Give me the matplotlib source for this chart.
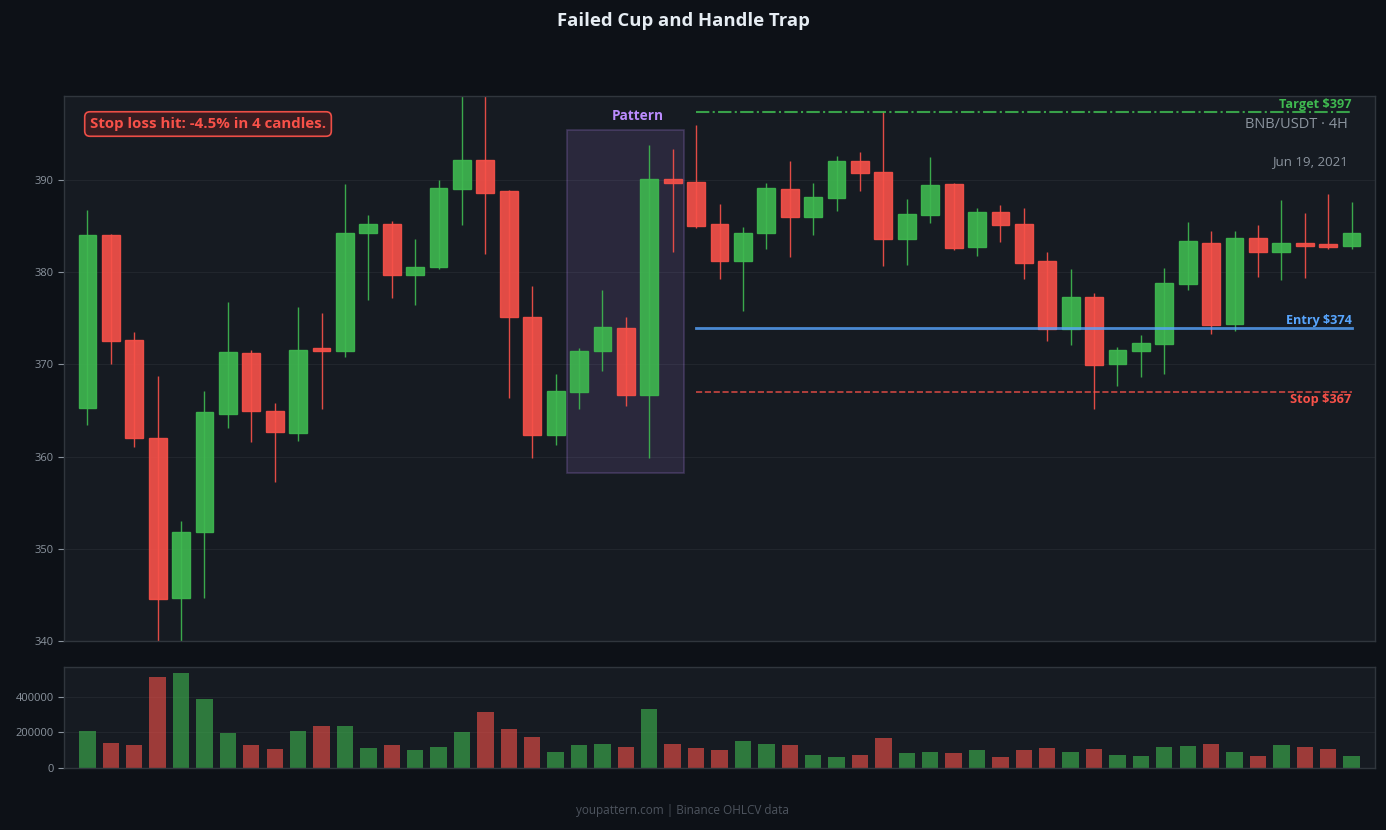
import matplotlib
matplotlib.use("Agg")
import matplotlib.pyplot as plt
from matplotlib.patches import Rectangle
from matplotlib import font_manager
import numpy as np

# ---------------- data ----------------
opens = [365.3, 384.1, 372.7, 362.0, 344.7, 351.8, 364.6, 371.3, 365.0, 362.6,
         371.8, 371.5, 384.3, 385.2, 379.7, 380.6, 389.0, 392.2, 388.8, 375.2,
         362.3, 367.0, 371.5, 374.0, 366.7, 390.1, 389.8, 385.2, 381.2, 384.3,
         389.0, 386.0, 388.1, 392.1, 390.9, 383.6, 386.2, 389.6, 382.7, 386.5,
         385.2, 381.2, 373.8, 377.3, 370.0, 371.5, 372.2, 378.7, 383.2, 374.4,
         383.7, 382.2, 383.2, 383.1, 382.9]
highs = [386.8, 384.2, 373.5, 368.8, 353.0, 367.1, 376.8, 371.6, 365.8, 376.2,
         375.6, 389.6, 386.2, 385.6, 383.6, 390.0, 400.2, 400.8, 388.9, 378.5,
         369.0, 371.8, 378.1, 375.1, 393.8, 393.4, 396.0, 387.4, 384.9, 389.7,
         392.1, 389.7, 392.6, 393.1, 397.5, 388.0, 392.5, 389.7, 387.0, 387.3,
         387.0, 382.2, 380.4, 377.8, 371.9, 373.2, 380.5, 385.5, 384.5, 384.5,
         385.1, 387.9, 386.4, 388.5, 387.6]
lows = [363.4, 370.0, 361.0, 339.8, 339.8, 344.7, 363.1, 361.6, 357.3, 361.7,
        365.2, 370.8, 377.0, 377.2, 376.5, 380.4, 385.1, 382.0, 366.4, 359.9,
        361.3, 365.2, 369.3, 365.5, 359.9, 382.2, 384.8, 379.3, 375.8, 382.5,
        381.7, 384.1, 386.7, 388.8, 380.7, 380.8, 385.4, 382.4, 381.8, 383.3,
        379.3, 372.6, 372.1, 365.2, 367.7, 368.6, 369.0, 378.1, 373.3, 373.6,
        379.5, 379.2, 379.4, 382.5, 382.5]
closes = [384.0, 372.5, 362.0, 344.6, 351.8, 364.8, 371.4, 365.0, 362.7, 371.6,
          371.5, 384.3, 385.2, 379.7, 380.6, 389.2, 392.2, 388.6, 375.1, 362.3,
          367.1, 371.5, 374.1, 366.7, 390.1, 389.7, 385.0, 381.2, 384.3, 389.2,
          386.0, 388.2, 392.1, 390.8, 383.6, 386.3, 389.5, 382.6, 386.5, 385.1,
          381.0, 373.8, 377.3, 369.9, 371.6, 372.3, 378.8, 383.4, 374.3, 383.7,
          382.2, 383.2, 382.9, 382.8, 384.3]
volumes = [206500, 139500, 128400, 513500, 535800, 390700, 195300, 128400, 106000, 206500,
           234400, 234400, 111600, 128400, 100500, 117200, 200900, 312600, 217700, 173000,
           89300, 128400, 134000, 117200, 329300, 134000, 111600, 100500, 150700, 134000,
           128400, 72600, 61400, 72600, 167400, 83700, 89300, 83700, 100500, 61400,
           100500, 111600, 89300, 106000, 72600, 67000, 117200, 122800, 134000, 89300,
           67000, 128400, 117200, 106000, 67000]

entry_price = 374.0
stop_price = 367.0
target_price = 397.4
trade_start = 26
pattern_start, pattern_end = 21, 25

title = "Failed Cup and Handle Trap"
symbol_label = "BNB/USDT · 4H"
date_label = "Jun 19, 2021"
result_label = "Stop loss hit: -4.5% in 4 candles."
footer = "youpattern.com | Binance OHLCV data"
price_ticks = [340, 350, 360, 370, 380, 390]
volume_ticks = [0, 200000, 400000]

# ---------------- style ----------------
FIG_BG = "#0d1117"
AX_BG = "#161b22"
SPINE = "#30363d"
GRID = "#21262d"
TICK = "#8b949e"
GREEN = "#3fb950"
RED = "#f85149"
BLUE = "#58a6ff"
PURPLE = "#bc8cff"
PURPLE_TXT = "#bc8cff"

plt.rcParams['font.family'] = ['Open Sans', 'DejaVu Sans']


def _find_bold_file():
    def w(f):
        try:
            return int(f.weight)
        except (TypeError, ValueError):
            return {'bold': 700, 'semibold': 600, 'demibold': 600, 'heavy': 800,
                    'black': 900, 'extra bold': 800}.get(str(f.weight).lower(), 400)
    for fam in ['Open Sans', 'Noto Sans', 'Inter', 'Roboto', 'Lato', 'DejaVu Sans']:
        cands = [f for f in font_manager.fontManager.ttflist
                 if f.name == fam and f.style == 'normal'
                 and 'ondensed' not in f.fname and 'ondensed' not in f.name
                 and str(f.stretch) in ('normal', '500', 'medium')
                 and 600 <= w(f) <= 800]
        if cands:
            cands.sort(key=lambda f: abs(w(f) - 700))
            return cands[0].fname
    return None


BOLD_FILE = _find_bold_file()


def bold(size):
    if BOLD_FILE:
        return font_manager.FontProperties(fname=BOLD_FILE, size=size)
    return font_manager.FontProperties(family='DejaVu Sans', weight='bold', size=size)


W, H = 1386, 830
fig = plt.figure(figsize=(W / 100, H / 100), dpi=100, facecolor=FIG_BG)

def frac(l, t, r, b):
    return [l / W, 1 - b / H, (r - l) / W, (b - t) / H]

ax = fig.add_axes(frac(64, 96, 1375, 641))
axv = fig.add_axes(frac(64, 667, 1375, 768), sharex=ax)

for a in (ax, axv):
    a.set_facecolor(AX_BG)
    for s in a.spines.values():
        s.set_color(SPINE)
        s.set_linewidth(1)
    a.tick_params(axis='y', colors=TICK, labelsize=8, length=4, color=TICK)
    a.tick_params(axis='x', bottom=False, labelbottom=False)
    a.grid(axis='y', color=GRID, linewidth=0.8)
    a.set_axisbelow(True)

n = len(opens)
x = np.arange(n)
o = np.array(opens); c = np.array(closes); h = np.array(highs); l = np.array(lows)
up = c >= o
cols = [GREEN if u else RED for u in up]

# wicks
for i in range(n):
    ax.vlines(x[i], l[i], h[i], color=cols[i], linewidth=1, alpha=0.9, zorder=2)
# bodies
bottoms = np.minimum(o, c)
heights = np.maximum(np.abs(c - o), 0.3)
ax.bar(x, heights, bottom=bottoms, width=0.76, color=cols, alpha=0.9,
       edgecolor=cols, linewidth=1, zorder=3)

ax.set_xlim(-1, n)
ax.set_ylim(340, 399.13)
ax.set_yticks(price_ticks)

# pattern box
p_lo = min(lows[pattern_start:pattern_end + 1])
p_hi = max(highs[pattern_start:pattern_end + 1])
pad = 0.05 * (p_hi - p_lo)
ax.add_patch(Rectangle((pattern_start - 0.5, p_lo - pad), pattern_end - pattern_start + 1,
                       (p_hi - p_lo) + 2 * pad, facecolor=PURPLE, alpha=0.12,
                       edgecolor='none', zorder=1))
ax.add_patch(Rectangle((pattern_start - 0.5, p_lo - pad), pattern_end - pattern_start + 1,
                       (p_hi - p_lo) + 2 * pad, facecolor='none', edgecolor=PURPLE,
                       alpha=0.22, linewidth=1.2, zorder=1))
ax.text((pattern_start + pattern_end + 1) / 2, p_hi + pad + 0.7, "Pattern", color=PURPLE_TXT,
        fontproperties=bold(9.8), ha='center', va='bottom')

# trade levels
xe = [trade_start, n - 1]
ax.plot(xe, [target_price] * 2, color=GREEN, linestyle='-.', linewidth=1.5, alpha=0.85, zorder=4)
ax.plot(xe, [entry_price] * 2, color=BLUE, linestyle='-', linewidth=2, alpha=0.8, zorder=4)
ax.plot(xe, [stop_price] * 2, color=RED, linestyle='--', linewidth=1.2, alpha=0.8, zorder=4)
ax.text(n - 1, target_price + 0.12, f"Target ${target_price:.0f}", color=GREEN,
        fontproperties=bold(9.2), ha='right', va='bottom', zorder=5)
ax.text(n - 1, entry_price + 0.12, f"Entry ${entry_price:.0f}", color=BLUE,
        fontproperties=bold(9.1), ha='right', va='bottom', zorder=5)
ax.text(n - 1, stop_price - 0.05, f"Stop ${stop_price:.0f}", color=RED,
        fontproperties=bold(9.2), ha='right', va='top', zorder=5)

# corner labels
ax.text(0.979, 0.9486, symbol_label, transform=ax.transAxes, color=TICK, fontsize=10.5,
        ha='right', va='center')
ax.text(0.979, 0.879, date_label, transform=ax.transAxes, color=TICK, fontsize=9.5,
        ha='right', va='center')
ax.text(0.0198, 0.9486, result_label, transform=ax.transAxes, color=RED,
        fontproperties=bold(10.8), ha='left', va='center',
        bbox=dict(boxstyle='round,pad=0.35', facecolor='#3a1d20', edgecolor=RED,
                  linewidth=1.2, alpha=0.95))

# volume
vcols = [GREEN if u else RED for u in up]
axv.bar(x, volumes, width=0.7, color=vcols, alpha=0.6, zorder=2)
axv.set_ylim(0, max(volumes) * 1.06)
axv.set_yticks(volume_ticks)
axv.set_yticklabels([str(v) for v in volume_ticks])

fig.text(683 / W, 1 - 20.5 / H, title, color="#e6edf3", fontproperties=bold(13.3),
         ha='center', va='center')
fig.text(683 / W, 1 - 810 / H, footer, color="#4d545e", fontsize=8.5, ha='center', va='center')

fig.savefig("out.png", dpi=100, facecolor=FIG_BG)
